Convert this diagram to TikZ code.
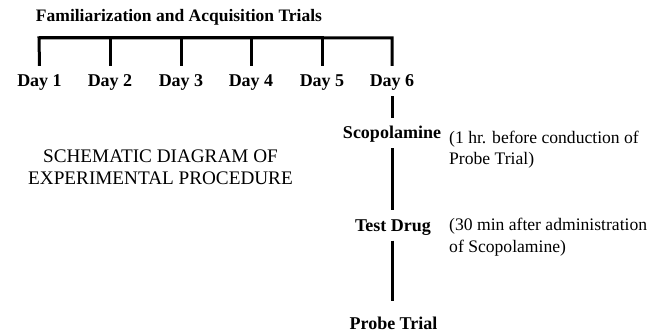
\documentclass[tikz,border=0pt]{standalone}
\usepackage{fontspec}
\setmainfont{Liberation Serif}
\usetikzlibrary{positioning}

\begin{document}
\begin{tikzpicture}[x=1pt,y=-1pt]
\tikzset{etape/.style={font=\fontsize{18}{20}\selectfont\bfseries, inner sep=0pt, text height=21pt, text depth=9pt},
  note/.style={font=\fontsize{17.6}{21.5}\selectfont, align=left, inner sep=0pt, anchor=base west},
  trait/.style={line width=3pt}}
\useasboundingbox (0,0) rectangle (654,334);
\node[font=\fontsize{17.5}{20}\selectfont\bfseries, inner sep=0pt, anchor=base] (titre) at (179,22) {Familiarization and Acquisition Trials};
% les six jours
\node[etape, anchor=base] (J1) at (39.5,87) {Day 1};
\node[etape, anchor=base] (J2) at (110,87) {Day 2};
\node[etape, anchor=base] (J3) at (181,87) {Day 3};
\node[etape, anchor=base] (J4) at (251,87) {Day 4};
\node[etape, anchor=base] (J5) at (322,87) {Day 5};
\node[etape, anchor=base] (J6) at (392,87) {Day 6};
\coordinate (B1) at (39,38);
\coordinate (B6) at (392,38);
\draw[trait] (J1.north) -- (B1) -- (B6) -- (J6.north);
\foreach \i in {2,...,5}
  \draw[trait] (J\i.north) |- (B1);
% jour 6
\node[etape, anchor=base] (S) at (392,139) {Scopolamine};
\node[etape, anchor=base] (T) at (393,231.5) {Test Drug};
\node[etape, anchor=base, text height=28pt] (P) at (393.5,329) {Probe Trial};
\draw[trait] (J6) -- (S);
\draw[trait] (S) -- (S |- T.north);
\draw[trait] (S |- T.south) -- (S |- P.north);
\node[note] (NS) at (449,165) {(1 hr. before conduction of\\Probe Trial)};
\node[note] (NT) at (449,252.5) {(30 min after administration\\of Scopolamine)};
\node[font=\fontsize{19.2}{22}\selectfont, align=center, anchor=base] (SD) at (160.5,185) {SCHEMATIC DIAGRAM OF\\EXPERIMENTAL PROCEDURE};
\end{tikzpicture}
\end{document}
